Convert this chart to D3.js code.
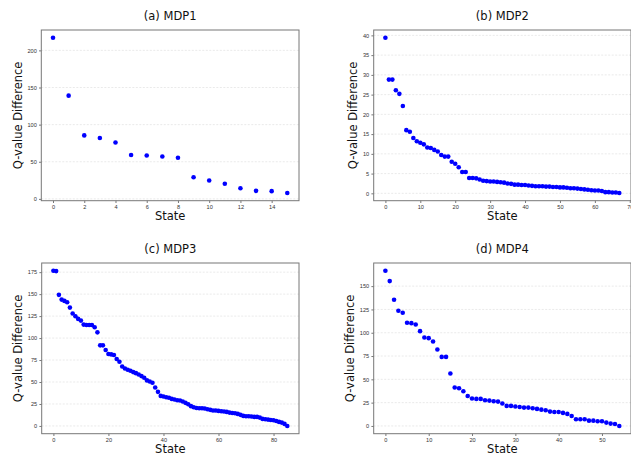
<!DOCTYPE html>
<html>
<head>
<meta charset="utf-8">
<script src="https://cdn.jsdelivr.net/npm/d3@7"></script>
<style>
  body { margin: 0; background: #fff; }
  svg { display: block; font-family: "DejaVu Sans", sans-serif; }
  .grid line { stroke: #dcdcdc; stroke-width: 0.6; stroke-dasharray: 2,1.5; }
  .axis path, .axis line { stroke: #777; }
  .axis text { fill: #333; font-size: 5.6px; }
</style>
</head>
<body>
<svg id="chart" width="631" height="455"></svg>
<script>
// Q-value differences per state
const mdp1 = [217, 139, 85.5, 82, 76, 59, 58.5, 57, 55.3, 29.2, 24.7, 20.3, 14.4, 10.8, 10.4, 8];

const mdp2 = [39.4, 28.8, 28.8, 26.1, 25.2, 22.1, 16.0, 15.6, 14.0, 13.2, 12.8, 12.4, 11.6, 11.5,
  11.0, 10.6, 9.7, 9.3, 9.3, 8.0, 7.5, 6.6, 5.4, 5.4, 3.9, 3.9, 3.8, 3.5, 3.2, 3.1, 3.0, 3.0,
  2.9, 2.8, 2.7, 2.5, 2.4, 2.2, 2.2, 2.1, 2.1, 2.0, 1.9, 1.8, 1.8, 1.8, 1.7, 1.7, 1.6, 1.6,
  1.5, 1.5, 1.4, 1.3, 1.3, 1.2, 1.1, 1.0, 0.9, 0.8, 0.7, 0.7, 0.6, 0.3, 0.3, 0.2, 0.2, 0.1];

const mdp3 = [176.6, 176.2, 149.2, 143.8, 142.3, 140.8, 134.7, 127.9, 124.8, 121.8, 119.9, 115.3,
  114.9, 114.9, 114.9, 112.3, 106.5, 91.7, 91.7, 86.4, 81.8, 81.4, 80.7, 76.1, 73.1, 67.7, 65.4,
  63.9, 62.8, 61.3, 60.1, 58.6, 56.7, 54.8, 51.8, 50.6, 49.1, 43.8, 38.8, 34.2, 33.5, 32.7, 32.0,
  30.8, 30.1, 29.3, 28.9, 27.8, 26.3, 24.7, 22.5, 21.3, 20.5, 20.2, 20.2, 19.8, 19.0, 18.3, 17.5,
  17.5, 17.1, 16.7, 16.4, 16.0, 15.2, 14.8, 14.5, 13.7, 12.6, 11.4, 11.0, 11.0, 10.7, 10.3, 10.3,
  9.5, 8.0, 7.6, 7.2, 6.8, 6.5, 5.7, 4.6, 3.8, 2.3, 0];

const mdp4 = [166.5, 155.4, 135.4, 123.6, 121.4, 110.7, 110.3, 108.9, 101.7, 94.9, 94.2, 90.6,
  82.0, 74.1, 74.1, 56.2, 41.2, 40.5, 37.2, 32.2, 29.4, 29.0, 29.0, 27.6, 27.2, 26.5, 26.1, 24.0,
  21.5, 21.5, 20.8, 20.4, 19.7, 19.7, 19.0, 18.3, 17.5, 16.8, 15.4, 15.0, 15.0, 14.0, 12.9, 10.7,
  7.2, 7.2, 7.2, 5.7, 5.7, 5.0, 5.0, 3.6, 2.5, 2.1, 0];

const titles = ["(a) MDP1", "(b) MDP2", "(c) MDP3", "(d) MDP4"];
const xTicks = [d3.range(0, 15, 2), d3.range(0, 71, 10), d3.range(0, 81, 20), d3.range(0, 51, 10)];
const yTicks = [d3.range(0, 201, 50), d3.range(0, 41, 5), d3.range(0, 176, 25), d3.range(0, 151, 25)];

const series = [mdp1, mdp2, mdp3, mdp4];

const panels = [
  { left: 41.3, right: 299, top: 30, bottom: 200.7 },
  { left: 373.7, right: 631, top: 30, bottom: 200.7 },
  { left: 41.7, right: 299, top: 263, bottom: 433.7 },
  { left: 373.7, right: 631, top: 263, bottom: 433.7 }
];

const svg = d3.select("#chart");

function padded(lo, hi) {
  const m = (hi - lo) * 0.05;
  return [lo - m, hi + m];
}

series.forEach(function(values, i) {
  const p = panels[i];
  const g = svg.append("g");

  const x = d3.scaleLinear()
    .domain(padded(0, values.length - 1))
    .range([p.left, p.right]);
  const y = d3.scaleLinear()
    .domain(padded(d3.min(values), d3.max(values)))
    .range([p.bottom, p.top]);

  // horizontal grid
  g.append("g").attr("class", "grid")
    .selectAll("line").data(yTicks[i]).join("line")
    .attr("x1", p.left).attr("x2", p.right)
    .attr("y1", d => y(d)).attr("y2", d => y(d));

  const xAxis = g.append("g").attr("class", "axis")
    .attr("transform", `translate(0,${p.bottom})`)
    .call(d3.axisBottom(x).tickValues(xTicks[i]).tickSize(2.3).tickPadding(2.2).tickSizeOuter(0));
  xAxis.select(".domain").remove();

  const yAxis = g.append("g").attr("class", "axis")
    .attr("transform", `translate(${p.left},0)`)
    .call(d3.axisLeft(y).tickValues(yTicks[i]).tickSize(2.3).tickPadding(2.2).tickSizeOuter(0));
  yAxis.select(".domain").remove();

  // frame
  g.append("rect")
    .attr("x", p.left).attr("y", p.top)
    .attr("width", p.right - p.left).attr("height", p.bottom - p.top)
    .attr("fill", "none").attr("stroke", "#777").attr("stroke-width", 1);

  g.append("g").selectAll("circle").data(values).join("circle")
    .attr("cx", (d, j) => x(j))
    .attr("cy", d => y(d))
    .attr("r", 2.3)
    .attr("fill", "#0000ff");

  const cx = (p.left + p.right) / 2;
  g.append("text")
    .attr("x", cx).attr("y", p.top - 10)
    .attr("text-anchor", "middle")
    .attr("font-size", 11.5)
    .attr("fill", "#111")
    .text(titles[i]);

  g.append("text")
    .attr("x", cx).attr("y", p.bottom + 19.5)
    .attr("text-anchor", "middle")
    .attr("font-size", 11.5)
    .attr("fill", "#111")
    .text("State");

  // y label sits just left of the tick labels (bbox is in the axis group's local coords)
  const tickBox = yAxis.node().getBBox();
  const lx = p.left + tickBox.x - 5.8;
  g.append("text")
    .attr("transform", `translate(${lx},${(p.top + p.bottom) / 2}) rotate(-90)`)
    .attr("text-anchor", "middle")
    .attr("font-size", 11.5)
    .attr("fill", "#111")
    .text("Q-value Difference");
});
</script>
</body>
</html>
